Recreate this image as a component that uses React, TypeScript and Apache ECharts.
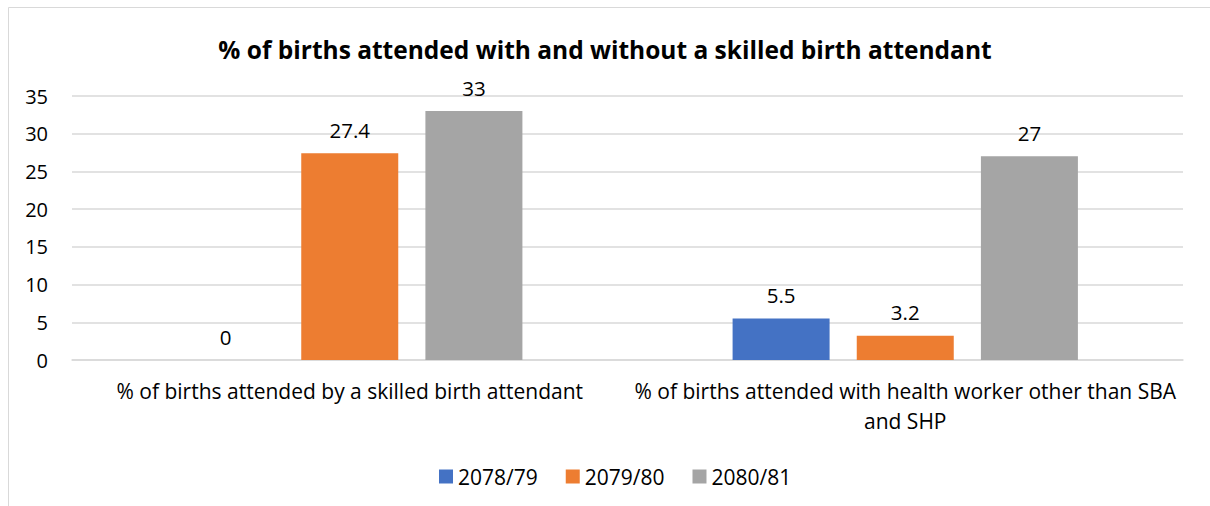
import React, { useEffect, useRef } from "react";
import * as echarts from "echarts";

const categories = [
  "% of births attended by a skilled birth attendant",
  "% of births attended with health worker other than SBA and SHP",
];
const seriesNames = ["2078/79", "2079/80", "2080/81"];
const values2078 = [0, 5.5];
const values2079 = [27.4, 3.2];
const values2080 = [33, 27];
const colors = ["#4472C4", "#ED7D31", "#A5A5A5"];
const yTicks = { min: 0, max: 35, interval: 5 };
const titleText = "% of births attended with and without a skilled birth attendant";

const FONT = "'Open Sans', Lato, 'Liberation Sans', Arial, sans-serif";

export default function App() {
  const ref = useRef<HTMLDivElement>(null);
  useEffect(() => {
    if (!ref.current) return;
    const chart = echarts.init(ref.current, null, { renderer: "svg" });
    const all = [values2078, values2079, values2080];
    chart.setOption({
      animation: false,
      backgroundColor: "#ffffff",
      textStyle: { fontFamily: FONT },
      title: {
        text: titleText,
        left: "center",
        top: 32,
        textStyle: { fontSize: 24.5, fontWeight: "bold", color: "#000000", fontFamily: FONT },
      },
      graphic: [
        { type: "line", shape: { x1: 8.5, y1: 7.5, x2: 1210, y2: 7.5 }, style: { stroke: "#D9D9D9", lineWidth: 1 } },
        { type: "line", shape: { x1: 8.5, y1: 7.5, x2: 8.5, y2: 506 }, style: { stroke: "#D9D9D9", lineWidth: 1 } },
      ],
      legend: {
        top: 461,
        left: 434,
        itemWidth: 14,
        itemHeight: 14,
        itemGap: 28,
        icon: "rect",
        textStyle: { fontSize: 21, color: "#000000", fontFamily: FONT },
        data: seriesNames,
      },
      grid: { left: 72, right: 27, top: 96, bottom: 146, containLabel: false },
      xAxis: {
        type: "category",
        data: categories,
        axisLine: { lineStyle: { color: "#D9D9D9", width: 1.5 } },
        axisTick: { show: false },
        axisLabel: {
          color: "#000000",
          fontSize: 21,
          margin: 16,
          lineHeight: 30,
          interval: 0,
          formatter: (v: string) => v.replace(" SBA and SHP", " SBA\nand SHP"),
        },
      },
      yAxis: {
        type: "value",
        min: yTicks.min,
        max: yTicks.max,
        interval: yTicks.interval,
        axisLine: { show: false },
        axisTick: { show: false },
        splitLine: { lineStyle: { color: "#D9D9D9", width: 1.5 } },
        axisLabel: { color: "#000000", fontSize: 20, margin: 24 },
      },
      series: seriesNames.map((name, i) => ({
        name,
        type: "bar",
        data: all[i],
        barWidth: 97,
        barGap: "28%",
        itemStyle: { color: colors[i] },
        label: {
          show: true,
          position: "top",
          distance: 13,
          color: "#000000",
          fontSize: 20.5,
          fontFamily: FONT,
        },
      })),
    });
    return () => chart.dispose();
  }, []);
  return (
    <div
      ref={ref}
      style={{ position: "fixed", left: 0, top: 0, width: 1210, height: 506 }}
    />
  );
}
